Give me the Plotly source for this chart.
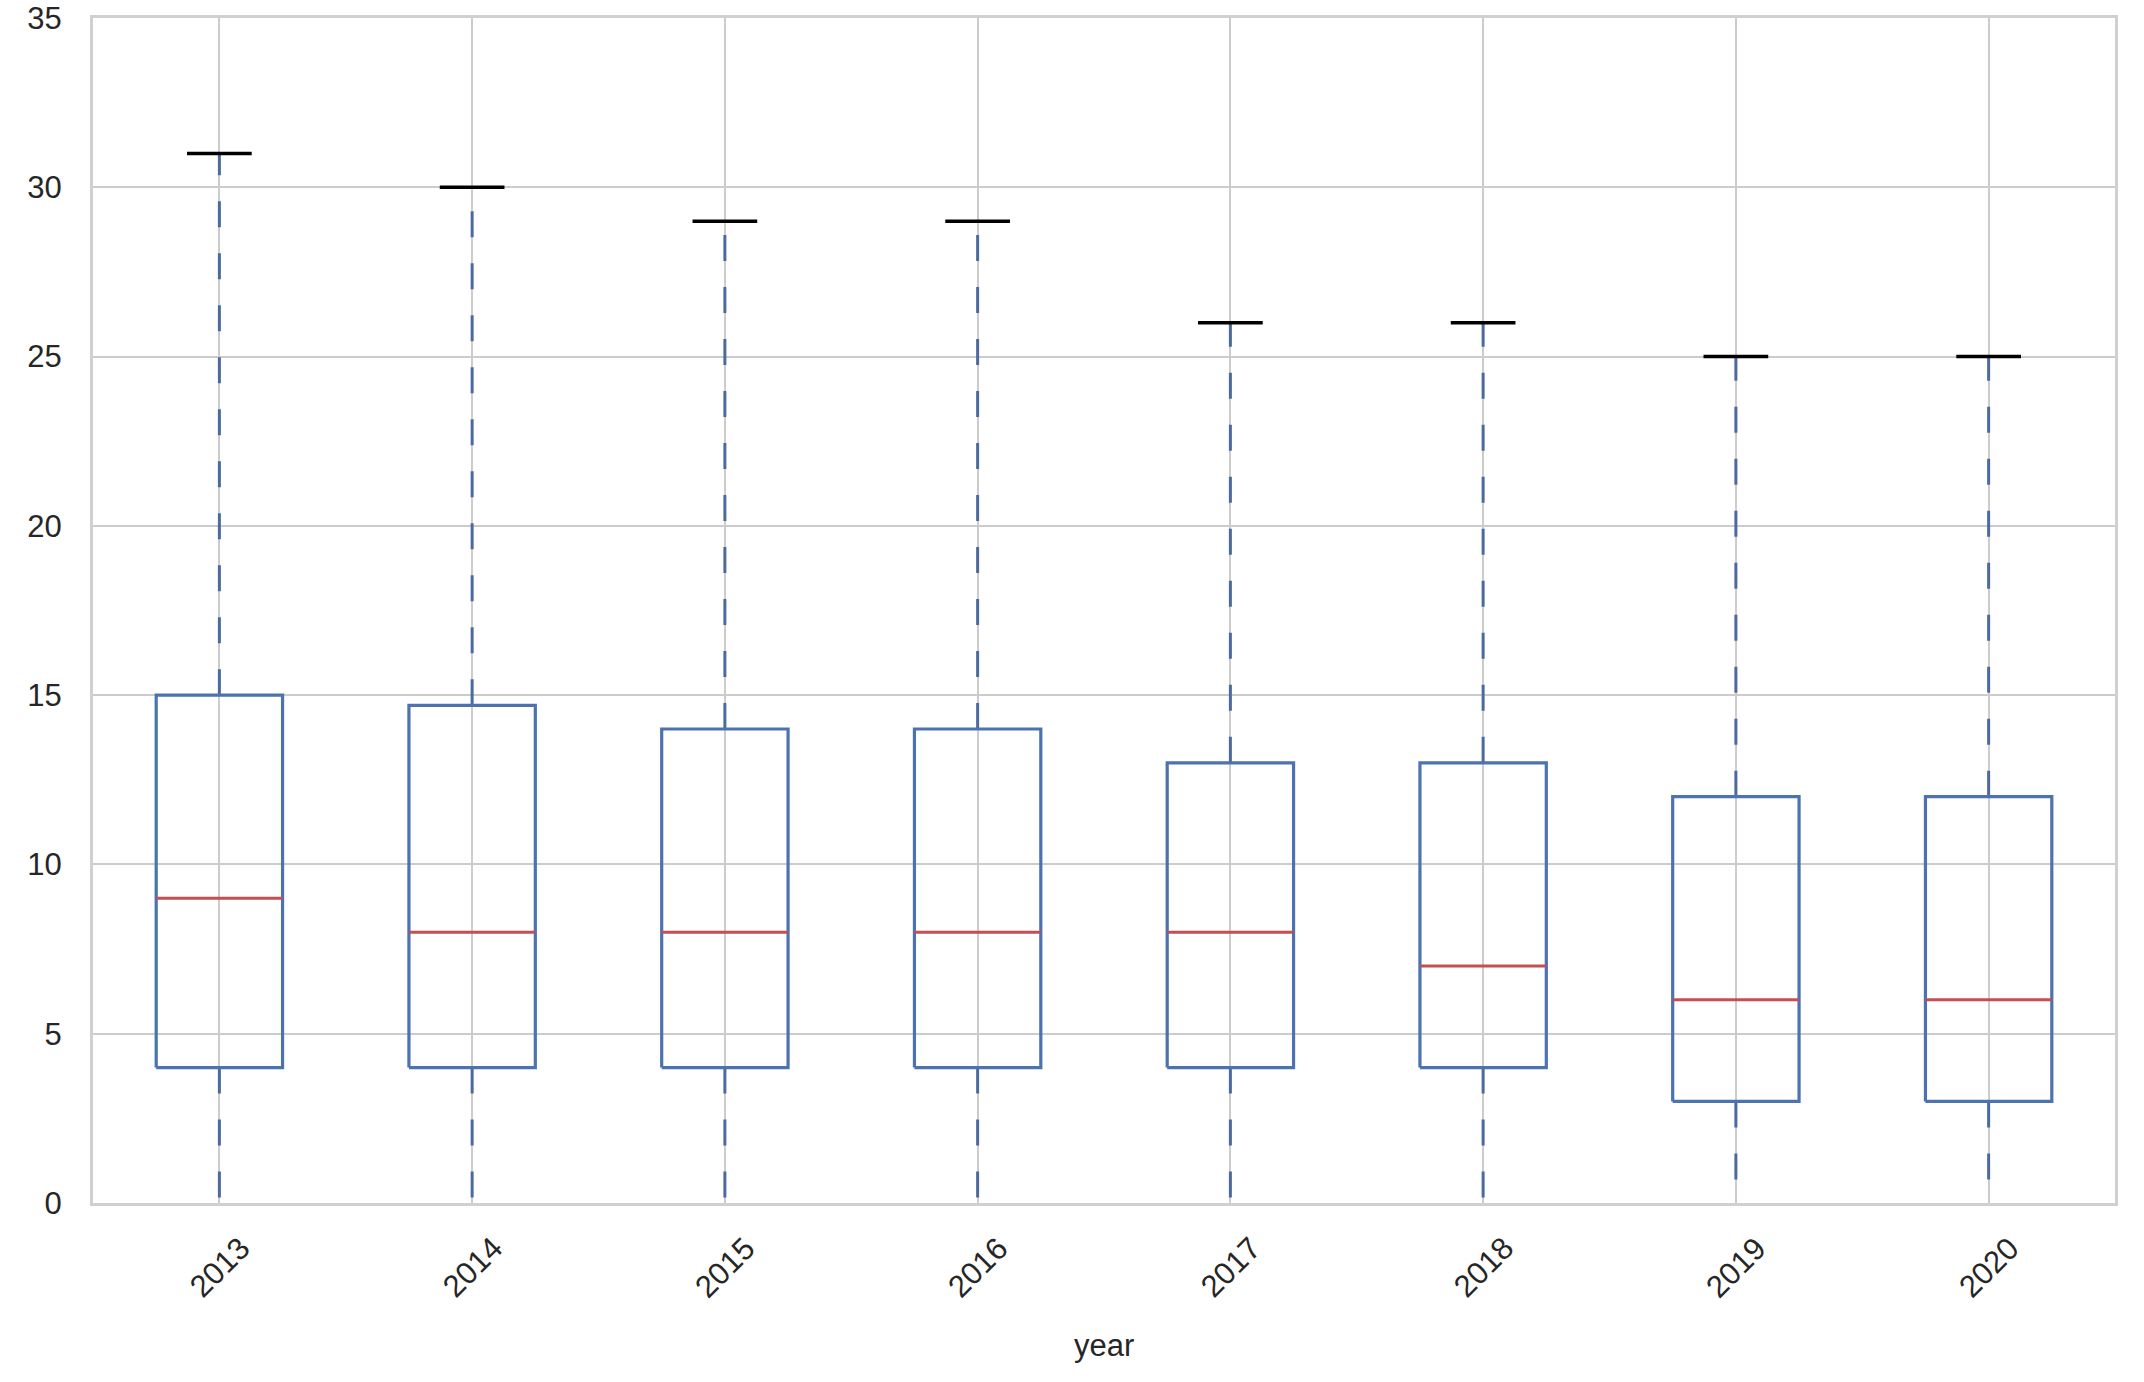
import plotly.graph_objects as go

years = ["2013", "2014", "2015", "2016", "2017", "2018", "2019", "2020"]
q1 = [4, 4, 4, 4, 4, 4, 3, 3]
median = [9, 8, 8, 8, 8, 7, 6, 6]
q3 = [15, 14.7, 14, 14, 13, 13, 12, 12]
whisk_lo = [0, 0, 0, 0, 0, 0, 0, 0]
whisk_hi = [31, 30, 29, 29, 26, 26, 25, 25]
y_ticks = [0, 5, 10, 15, 20, 25, 30, 35]

BOX_HALF = 0.25
CAP_HALF = 0.128
BLUE = "#4C72B0"
WHISK = "#4d6a9e"
RED = "#C44E52"
FONT = "Liberation Sans, Arial, sans-serif"
TXT = "#262626"
FS = 31

fig = go.Figure()

# whiskers (dashed), drawn from box edge outward
for i in range(len(years)):
    for a, b in ((q3[i], whisk_hi[i]), (q1[i], whisk_lo[i])):
        fig.add_trace(go.Scatter(
            x=[i, i], y=[a, b], mode="lines",
            line=dict(color=WHISK, width=3, dash="26px,26px"),
            hoverinfo="skip", showlegend=False))

# boxes
bx, by = [], []
for i in range(len(years)):
    bx += [i - BOX_HALF, i + BOX_HALF, i + BOX_HALF, i - BOX_HALF, i - BOX_HALF, None]
    by += [q1[i], q1[i], q3[i], q3[i], q1[i], None]
fig.add_trace(go.Scatter(x=bx, y=by, mode="lines",
                         line=dict(color=BLUE, width=3.2),
                         hoverinfo="skip", showlegend=False))

# medians
mx, my = [], []
for i in range(len(years)):
    mx += [i - BOX_HALF, i + BOX_HALF, None]
    my += [median[i], median[i], None]
fig.add_trace(go.Scatter(x=mx, y=my, mode="lines",
                         line=dict(color=RED, width=3),
                         hoverinfo="skip", showlegend=False))

# top caps (bottom caps sit under the axis spine in the original)
cx, cy = [], []
for i in range(len(years)):
    cx += [i - CAP_HALF, i + CAP_HALF, None]
    cy += [whisk_hi[i], whisk_hi[i], None]
fig.add_trace(go.Scatter(x=cx, y=cy, mode="lines",
                         line=dict(color="black", width=3.5),
                         hoverinfo="skip", showlegend=False))

# rotated x tick labels centred on ticks
annotations = []
for i, yr in enumerate(years):
    annotations.append(dict(
        x=i, xref="x", y=0, yref="paper", yshift=-64,
        text=yr, showarrow=False, textangle=-45,
        xanchor="center", yanchor="middle",
        font=dict(family=FONT, size=FS, color=TXT)))
annotations.append(dict(
    x=0.5, xref="paper", y=0, yref="paper", yshift=-142,
    text="year", showarrow=False, xanchor="center", yanchor="middle",
    font=dict(family=FONT, size=FS, color=TXT)))

fig.update_layout(
    width=2144, height=1382,
    margin=dict(l=93, r=29, t=18, b=179, autoexpand=False),
    paper_bgcolor="white", plot_bgcolor="white",
    font=dict(family=FONT, size=FS, color=TXT),
    annotations=annotations,
    showlegend=False,
)
fig.update_xaxes(
    range=[-0.5, len(years) - 0.5], automargin=False,
    tickvals=list(range(len(years))), showticklabels=False,
    showgrid=True, gridcolor="#cccccc", gridwidth=2,
    showline=True, linecolor="#d0d0d0", linewidth=3, mirror=True,
    zeroline=False, ticks="",
)
fig.update_yaxes(
    range=[0, 35], tickvals=y_ticks, automargin=False,
    showgrid=True, gridcolor="#cccccc", gridwidth=2,
    showline=True, linecolor="#d0d0d0", linewidth=3, mirror=True,
    zeroline=False, ticks="", ticklabelstandoff=22,
    ticklabeloverflow="allow",
    tickfont=dict(family=FONT, size=FS, color=TXT),
)

fig.write_html(
    "out.html",
    config={"displayModeBar": False},
    post_script="document.body.style.margin='0';document.body.style.overflow='hidden';",
)
